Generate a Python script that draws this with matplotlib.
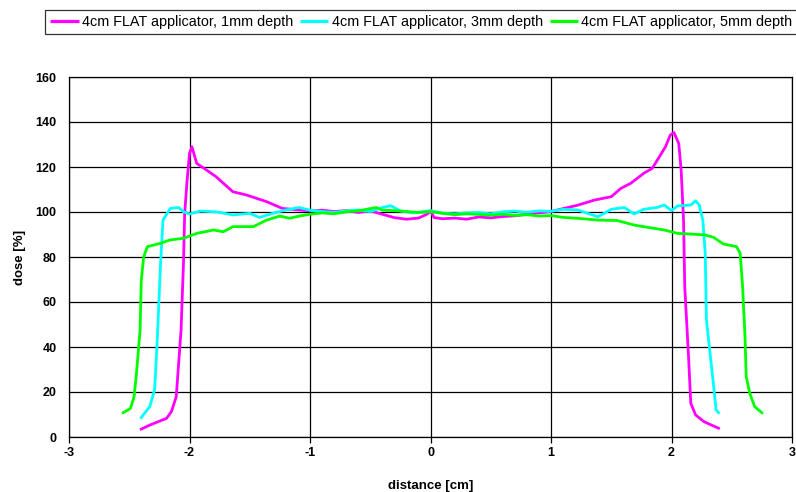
import matplotlib
matplotlib.use("Agg")
import matplotlib.pyplot as plt

plt.rcParams['font.family'] = ['Liberation Sans', 'DejaVu Sans']
plt.rcParams['axes.unicode_minus'] = False

# depth dose profiles across the applicator, read along the distance axis
x_1mm = [-2.40, -2.33, -2.19, -2.15, -2.11, -2.09, -2.07, -2.05, -2.04, -2.02, -2.00, -1.98,
         -1.94, -1.86, -1.78, -1.64, -1.53, -1.36, -1.23, -1.09,
         -1.0, -0.9, -0.8, -0.7, -0.6, -0.5, -0.4, -0.3, -0.2, -0.1, -0.03, 0.0, 0.03,
         0.1, 0.2, 0.3, 0.4, 0.5, 0.6, 0.7, 0.8, 0.9, 1.0, 1.1, 1.22,
         1.36, 1.50, 1.58, 1.66, 1.77, 1.84, 1.90, 1.95, 1.99, 2.02, 2.06, 2.08, 2.10,
         2.11, 2.14, 2.16, 2.20, 2.27, 2.39]
y_1mm = [3.5, 5.3, 8.3, 11.3, 17.9, 32.7, 47.6, 77.2, 99.4, 114, 126, 129,
         121.6, 118.7, 115.7, 109, 107.6, 104.6, 101.6, 100.9,
         100.5, 100.8, 100.2, 100.6, 99.8, 100.5, 99.0, 97.5, 96.8, 97.3, 99.0, 100.5, 97.5,
         97.0, 97.3, 96.8, 97.8, 97.4, 98.0, 98.3, 99.0, 99.6, 100.2, 101.5, 103,
         105.3, 106.8, 110.5, 112.7, 117.2, 119.4, 124.6, 129, 134.2, 135.3, 130.5, 118.7, 96.4,
         66.8, 37.2, 15, 9.8, 6.8, 3.9]

x_3mm = [-2.40, -2.33, -2.29, -2.27, -2.24, -2.22, -2.16, -2.09, -2.05, -2.00, -1.91, -1.78,
         -1.64, -1.50, -1.42, -1.31, -1.20, -1.09,
         -1.0, -0.9, -0.8, -0.7, -0.6, -0.5, -0.4, -0.33, -0.25, -0.15, -0.05, 0.0,
         0.1, 0.2, 0.3, 0.4, 0.5, 0.6, 0.7, 0.8, 0.9, 1.0, 1.1, 1.22,
         1.39, 1.50, 1.61, 1.69, 1.77, 1.88, 1.94, 2.00, 2.05, 2.16, 2.20, 2.23, 2.26,
         2.28, 2.29, 2.32, 2.35, 2.37, 2.39]
y_3mm = [8.7, 13.5, 20.9, 40.1, 77.2, 96.4, 101.6, 102, 100.1, 99.1, 100.4, 100.1,
         98.7, 99.4, 97.6, 99.4, 100.9, 102,
         100.8, 100.2, 99.8, 100.5, 100.9, 100.2, 102.0, 102.8, 100.5, 99.6, 100.2, 100.6,
         99.5, 99.2, 99.6, 99.8, 99.2, 100.1, 100.4, 99.9, 100.5, 100.3, 101.2, 100.9,
         97.9, 101.2, 102, 99.1, 101.2, 102, 103.1, 100.6, 102.7, 103.1, 105, 103.1, 96.4,
         81.6, 52, 37.2, 22.4, 12, 10.8]

x_5mm = [-2.55, -2.49, -2.46, -2.44, -2.41, -2.40, -2.38, -2.35, -2.24, -2.16, -2.05, -1.94,
         -1.80, -1.72, -1.64, -1.47, -1.36, -1.25, -1.17, -1.09,
         -1.0, -0.9, -0.8, -0.7, -0.6, -0.5, -0.45, -0.4, -0.3, -0.2, -0.1, 0.0,
         0.1, 0.2, 0.3, 0.4, 0.5, 0.6, 0.7, 0.8, 0.9, 1.0, 1.1, 1.22,
         1.39, 1.55, 1.69, 1.80, 1.94, 2.05, 2.16, 2.28, 2.35, 2.43, 2.54, 2.57,
         2.59, 2.61, 2.62, 2.65, 2.69, 2.75]
y_5mm = [10.8, 12.7, 17.9, 28.3, 47.6, 69.8, 80.1, 84.6, 86.1, 87.6, 88.3, 90.5,
         92, 91.2, 93.5, 93.5, 96.4, 98.2, 97.2, 98.2,
         99.0, 99.6, 99.2, 100.1, 100.5, 101.5, 102.0, 100.8, 100.6, 100.2, 99.8, 100.2,
         99.4, 98.8, 99.2, 98.9, 98.6, 99.0, 98.5, 98.8, 98.2, 98.4, 97.6, 97.2,
         96.4, 96.2, 94.2, 93.2, 92, 90.5, 90.2, 89.8, 88.7, 85.8, 84.6, 81.6,
         66.8, 44.6, 26.8, 19.4, 13.5, 10.8]

labels = ["4cm FLAT applicator, 1mm depth",
          "4cm FLAT applicator, 3mm depth",
          "4cm FLAT applicator, 5mm depth"]
colors = ["#ff00ff", "#00ffff", "#00ff00"]

fig = plt.figure(figsize=(7.96, 4.92), dpi=100)
ax = fig.add_axes([69 / 796, 1 - 437 / 492, 723 / 796, 360 / 492])

ax.plot(x_1mm, y_1mm, color=colors[0], lw=2, label=labels[0])
ax.plot(x_3mm, y_3mm, color=colors[1], lw=2, label=labels[1])
ax.plot(x_5mm, y_5mm, color=colors[2], lw=2, label=labels[2])

ax.set_xlim(-3, 3)
ax.set_ylim(0, 160)
ax.set_xticks(range(-3, 4))
ax.set_yticks(range(0, 161, 20))
ax.grid(True, color="black", lw=0.9)
ax.set_axisbelow(True)
for s in ax.spines.values():
    s.set_color("black")
    s.set_linewidth(0.9)
ax.tick_params(direction="out", length=4, width=0.9, labelsize=9)
ax.tick_params(axis="y", length=0, pad=9)
for t in ax.get_xticklabels() + ax.get_yticklabels():
    t.set_fontweight("bold")

ax.set_xlabel("distance [cm]", fontsize=9.5, fontweight="bold", labelpad=15)
ax.set_ylabel("dose [%]", fontsize=9.5, fontweight="bold", labelpad=7)

leg = fig.legend(loc="upper left", bbox_to_anchor=(45 / 796, 1 - 9.5 / 492), ncol=3,
                 fontsize=10.4, frameon=True, fancybox=False, handlelength=1.95,
                 handletextpad=0.22, columnspacing=0.5, borderpad=0.38, borderaxespad=0)
leg.get_frame().set_edgecolor("black")
leg.get_frame().set_linewidth(0.9)
for line in leg.get_lines():
    line.set_linewidth(2.3)
    line.set_solid_capstyle("butt")

fig.savefig("out.png", dpi=100)
